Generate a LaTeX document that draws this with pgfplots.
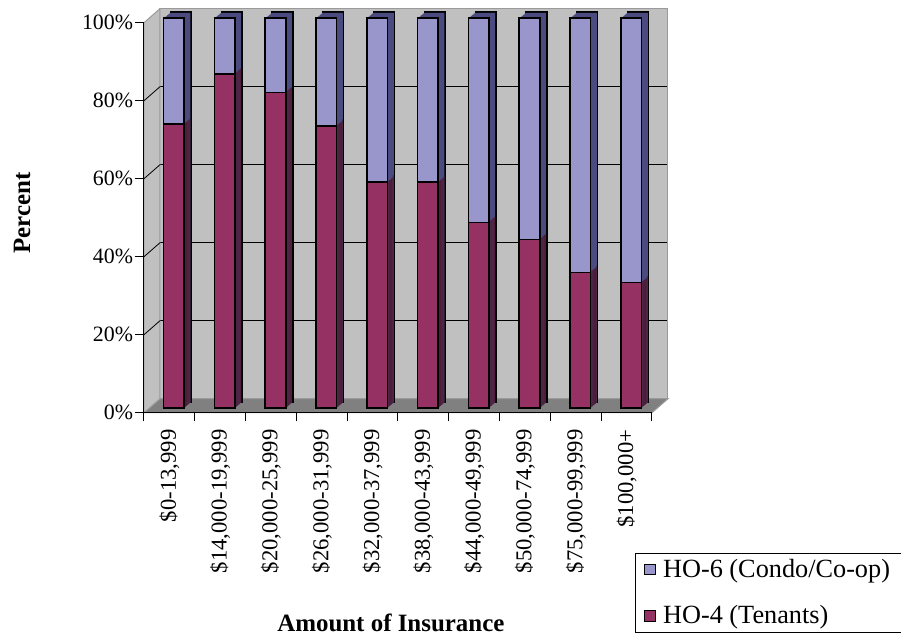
\documentclass[border=0pt]{standalone}
\usepackage{fontspec}
\setmainfont{Liberation Serif}
\usepackage{pgfplots}
\usepackage{pgfplotstable}
\pgfplotsset{compat=1.18}

\definecolor{wallgray}{HTML}{C0C0C0}
\definecolor{floorgray}{HTML}{808080}
\definecolor{wallline}{HTML}{9A9A9A}
\definecolor{hofourfront}{HTML}{953163}
\definecolor{hofourside}{HTML}{4F1A35}
\definecolor{hosixfront}{HTML}{9896CB}
\definecolor{hosixside}{HTML}{4B4B80}

% share of each policy type, percent
\pgfplotstableread{
idx ho4  ho6
0   72.8 27.2
1   85.7 14.3
2   80.9 19.1
3   72.3 27.7
4   57.9 42.1
5   57.9 42.1
6   47.6 52.4
7   43.2 56.8
8   34.8 65.2
9   32.2 67.8
}\insurance

\pgfplotsset{
  frame3d/.style={
    scale only axis, width=381pt, height=292.5pt,
    xmin=-0.5, xmax=9.5, ymin=0, ymax=100,
    anchor=south west, clip=false,
  },
  depthbar/.style={ybar, bar width=15.4pt, bar shift=0pt},
}

\begin{document}
\begin{tikzpicture}
% back wall, side wall and floor
\begin{axis}[frame3d, at={(12pt,10.5pt)},
    axis background/.style={fill=wallgray},
    axis line style={draw=wallline, line width=0.75pt},
    xtick=\empty, ytick={20,40,60,80}, yticklabels={}, major tick length=0pt,
    ymajorgrids, grid style={black, line width=0.6pt}]
  \filldraw[fill=floorgray, draw=wallline, line width=0.75pt]
    (rel axis cs:0,0) -- (rel axis cs:1,0)
    -- ([shift={(-12pt,-10.5pt)}]rel axis cs:1,0)
    -- ([shift={(-12pt,-10.5pt)}]rel axis cs:0,0) -- cycle;
  \filldraw[fill=wallgray, draw=wallline, line width=0.75pt]
    (rel axis cs:0,0) -- (rel axis cs:0,1)
    -- ([shift={(-12pt,-10.5pt)}]rel axis cs:0,1)
    -- ([shift={(-12pt,-10.5pt)}]rel axis cs:0,0) -- cycle;
  \draw[black, line width=0.6pt] (axis cs:-0.5,20) -- ++(-12pt,-10.5pt);
  \draw[black, line width=0.6pt] (axis cs:-0.5,40) -- ++(-12pt,-10.5pt);
  \draw[black, line width=0.6pt] (axis cs:-0.5,60) -- ++(-12pt,-10.5pt);
  \draw[black, line width=0.6pt] (axis cs:-0.5,80) -- ++(-12pt,-10.5pt);
\end{axis}

% depth of the bars
\begin{axis}[frame3d, at={(3.4pt,3.45pt)}, hide axis]
  \addplot[depthbar, fill=hosixside, draw=black, line width=1.2pt,
    xshift=5.25pt, yshift=4.5pt]
    table[x=idx, y expr=\thisrow{ho4}+\thisrow{ho6}] {\insurance};
  \addplot[depthbar, fill=hofourside, draw=black, line width=1.2pt,
    xshift=5.25pt, yshift=4.5pt]
    table[x=idx, y=ho4] {\insurance};
  \pgfplotsinvokeforeach{7,6,...,1}{
    \addplot[depthbar, fill=hosixside, draw=none,
      xshift=#1*0.65625pt, yshift=#1*0.5625pt]
      table[x=idx, y expr=\thisrow{ho4}+\thisrow{ho6}] {\insurance};
    \addplot[depthbar, fill=hofourside, draw=none,
      xshift=#1*0.65625pt, yshift=#1*0.5625pt]
      table[x=idx, y=ho4] {\insurance};
  }
\end{axis}

% front faces
\begin{axis}[frame3d, at={(3.4pt,3.45pt)}, hide axis, ybar stacked, bar width=15.4pt]
  \addplot[fill=hofourfront, draw=black, line width=1.2pt] table[x=idx, y=ho4] {\insurance};
  \addplot[fill=hosixfront, draw=black, line width=1.2pt] table[x=idx, y=ho6] {\insurance};
\end{axis}

% axes, labels, legend
\begin{axis}[frame3d, at={(0pt,0pt)},
    axis lines*=left, axis line style={black, line width=0.75pt},
    xtick={-0.5,0.5,1.5,2.5,3.5,4.5,5.5,6.5,7.5,8.5,9.5},
    x tick label as interval,
    xticklabels={{\$0-13,999},{\$14,000-19,999},{\$20,000-25,999},{\$26,000-31,999},
      {\$32,000-37,999},{\$38,000-43,999},{\$44,000-49,999},{\$50,000-74,999},
      {\$75,000-99,999},{\$100,000+}},
    ytick={0,20,40,60,80,100},
    yticklabel={\pgfmathprintnumber{\tick}\%},
    /pgf/number format/assume math mode=true,
    tick align=outside, major tick length=6.5pt,
    tick style={black, line width=0.75pt},
    xticklabel style={rotate=90, anchor=east, inner sep=0pt,
      font=\fontsize{17pt}{20pt}\selectfont},
    xticklabel shift=6pt,
    yticklabel style={inner sep=1.5pt, font=\fontsize{16.4pt}{19pt}\selectfont},
    xlabel={Amount of Insurance}, ylabel={Percent},
    label style={font=\bfseries\fontsize{18.7pt}{22pt}\selectfont},
    xlabel style={at={(axis description cs:0.486,-0.539)}, anchor=center},
    ylabel style={at={(axis description cs:-0.240,0.512)}, anchor=center},
    legend style={at={(axis description cs:0.9665,-0.3585)}, anchor=north west,
      draw=black, line width=0.75pt, fill=white,
      font=\fontsize{19.7pt}{23pt}\selectfont,
      inner xsep=6.5pt, inner ysep=2.8pt, row sep=15.5pt},
    legend cell align=left,
    legend image code/.code={
      \draw[#1, line width=0.75pt] (0pt,-4pt) rectangle (8pt,4pt);
      \path (11.5pt,0pt);},
  ]
  \addlegendimage{fill=hosixfront, draw=black}
  \addlegendentry{HO-6 (Condo/Co-op)}
  \addlegendimage{fill=hofourfront, draw=black}
  \addlegendentry{HO-4 (Tenants)}
\end{axis}
\pgfresetboundingbox
\useasboundingbox (-108pt,-168.225pt) rectangle (567.75pt,309.525pt);
\end{tikzpicture}
\end{document}
